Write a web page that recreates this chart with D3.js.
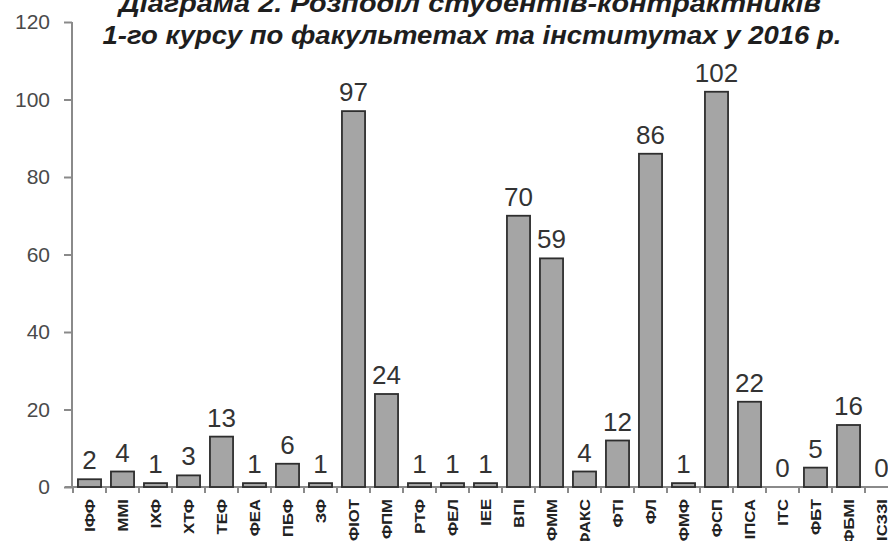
<!DOCTYPE html>
<html>
<head>
<meta charset="utf-8">
<script src="https://cdn.jsdelivr.net/npm/d3@7"></script>
<style>
  html, body { margin: 0; padding: 0; background: #fff; }
  svg { display: block; }
</style>
</head>
<body>
<svg id="chart" width="888" height="541"></svg>
<script>
const categories = ["ІФФ","ММІ","ІХФ","ХТФ","ТЕФ","ФЕА","ПБФ","ЗФ","ФІОТ","ФПМ","РТФ","ФЕЛ","ІЕЕ","ВПІ","ФММ","ФАКС","ФТІ","ФЛ","ФМФ","ФСП","ІПСА","ІТС","ФБТ","ФБМІ","ІСЗЗІ"];
const values = [2,4,1,3,13,1,6,1,97,24,1,1,1,70,59,4,12,86,1,102,22,0,5,16,0];
const yTicks = [0,20,40,60,80,100,120];
const titleLines = ["Діаграма 2. Розподіл студентів-контрактників", "1-го курсу по факультетах та інститутах у 2016 р."];

const svg = d3.select("#chart");
const x = d3.scaleBand().domain(categories).range([73, 898]).paddingInner(0.3).paddingOuter(0.15);
const y = d3.scaleLinear().domain([0, 120]).range([487, 22]);

// Y axis
const yAxis = svg.append("g").attr("transform", "translate(72,0)")
  .call(d3.axisLeft(y).tickValues(yTicks).tickSize(8).tickPadding(14));
yAxis.select(".domain").attr("stroke", "#8a8a8a").attr("stroke-width", 2).attr("d", `M0,${y(120)}V${y(0)}`);
yAxis.selectAll(".tick line").attr("stroke", "#8a8a8a").attr("stroke-width", 2);
yAxis.selectAll(".tick text").attr("font-family", "Liberation Sans, Arial, sans-serif")
  .attr("font-size", 21).attr("fill", "#4a4a4a");

// X axis line and ticks at band boundaries
const xg = svg.append("g");
xg.append("line").attr("x1", 65).attr("x2", 888).attr("y1", y(0)).attr("y2", y(0))
  .attr("stroke", "#8a8a8a").attr("stroke-width", 2);
const step = x.step();
const bounds = d3.range(categories.length + 1).map(i => x.range()[0] + i * step);
xg.selectAll("line.xt").data(bounds).join("line").attr("class", "xt")
  .attr("x1", d => d).attr("x2", d => d).attr("y1", y(0)).attr("y2", y(0) + 6)
  .attr("stroke", "#8a8a8a").attr("stroke-width", 2);

// Bars
svg.append("g").selectAll("rect").data(categories).join("rect")
  .attr("x", d => x(d))
  .attr("width", x.bandwidth())
  .attr("y", (d, i) => y(values[i]))
  .attr("height", (d, i) => y(0) - y(values[i]))
  .attr("fill", "#a5a5a5").attr("stroke", "#2e2e2e").attr("stroke-width", 1.8);

// Value labels
svg.append("g").selectAll("text").data(categories).join("text")
  .attr("x", d => x(d) + x.bandwidth() / 2)
  .attr("y", (d, i) => y(values[i]) - 10)
  .attr("text-anchor", "middle")
  .attr("font-family", "Liberation Sans, Arial, sans-serif")
  .attr("font-size", 26).attr("fill", "#333")
  .text((d, i) => values[i]);

// Category labels (rotated, stretched along their length)
svg.append("g").selectAll("text").data(categories).join("text")
  .attr("transform", d => `translate(${x(d) + x.bandwidth() / 2 + 5},499) rotate(-90) scale(1.15,1)`)
  .attr("text-anchor", "end")
  .attr("font-family", "Liberation Sans, Arial, sans-serif")
  .attr("font-weight", "bold")
  .attr("font-size", 14.5).attr("fill", "#222")
  .text(d => d);

// Title
const title = svg.append("g");
title.append("text").attr("x", 470).attr("y", 12).attr("text-anchor", "middle")
  .attr("font-family", "Liberation Sans, Arial, sans-serif").attr("font-weight", "bold")
  .attr("font-style", "italic").attr("font-size", 26).attr("fill", "#1e1e1e")
  .attr("textLength", 702).attr("lengthAdjust", "spacingAndGlyphs")
  .text(titleLines[0]);
title.append("text").attr("x", 472).attr("y", 44).attr("text-anchor", "middle")
  .attr("font-family", "Liberation Sans, Arial, sans-serif").attr("font-weight", "bold")
  .attr("font-style", "italic").attr("font-size", 26).attr("fill", "#1e1e1e")
  .attr("textLength", 739).attr("lengthAdjust", "spacingAndGlyphs")
  .text(titleLines[1]);
</script>
</body>
</html>
